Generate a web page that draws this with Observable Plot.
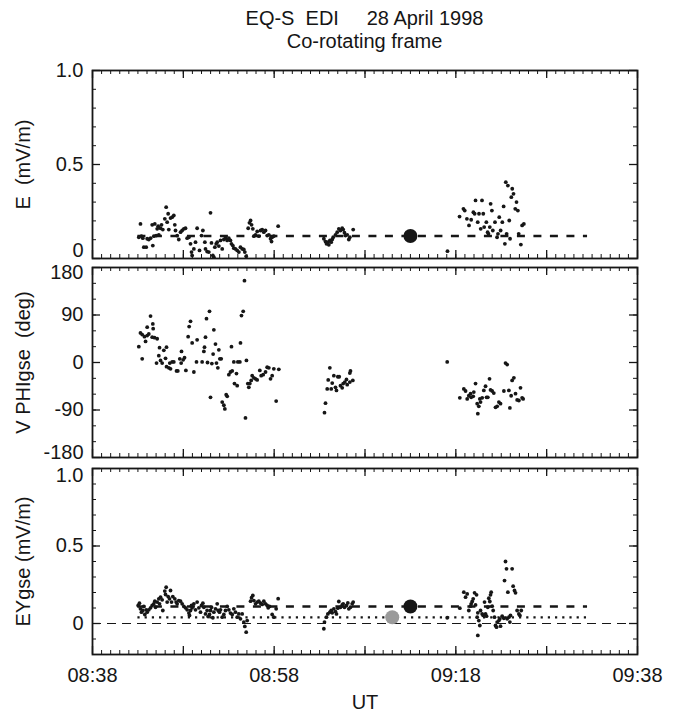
<!DOCTYPE html>
<html><head><meta charset="utf-8">
<script src="https://cdn.jsdelivr.net/npm/d3@7"></script>
<script src="https://cdn.jsdelivr.net/npm/@observablehq/plot@0.6"></script>
<style>
body{margin:0;background:#fff;}
#chart{position:relative;width:677px;height:715px;font-family:"Liberation Sans",Arial,Helvetica,sans-serif;color:#151515;overflow:hidden;}
#chart svg{position:absolute;left:0;overflow:visible;}
#chart svg text{white-space:pre;}
.title{position:absolute;left:92px;width:545px;text-align:center;font-size:20px;line-height:23px;white-space:pre;}
</style></head><body><div id="chart"></div>
<script>
// ---------- data (time = minutes after 08:00 UT, 28 April 1998) ----------
const titleLines = ["EQ-S  EDI     28 April 1998", "Co-rotating frame"];
const xTickLabels = ["08:38", "08:58", "09:18", "09:38"];
const xTitle = "UT";
const panelTitles = ["E  (mV/m)", "V PHIgse  (deg)", "EYgse (mV/m)"];

// Panel 1: |E| (mV/m)
const ePoints = [
[43.10,0.113],[43.28,0.184],[43.39,0.119],[43.54,0.108],[43.65,0.060],[43.91,0.060],[44.02,0.105],[44.20,0.101],[44.39,0.108],[44.57,0.179],[44.64,0.069],[44.75,0.119],[44.86,0.184],[45.01,0.122],[45.12,0.158],[45.23,0.172],[45.30,0.126],[45.49,0.161],[45.60,0.179],[45.74,0.154],[45.96,0.211],[46.11,0.273],[46.22,0.193],[46.33,0.238],[46.40,0.154],[46.59,0.215],[46.77,0.220],[46.95,0.229],[47.06,0.179],[47.14,0.149],[47.32,0.122],[47.50,0.101],[47.69,0.140],[47.87,0.149],[48.06,0.158],[48.24,0.161],[48.42,0.108],[48.61,0.113],[48.79,0.078],[48.90,0.034],[48.97,0.016],[49.16,0.051],[49.34,0.087],[49.52,0.161],[49.78,0.043],[50.00,0.122],[50.15,0.149],[50.37,0.087],[50.44,0.051],[50.62,0.037],[50.81,0.034],[50.99,0.243],[51.10,0.083],[51.25,0.016],[51.36,0.007],[51.47,0.060],[51.62,0.078],[51.73,0.087],[51.91,0.066],[52.09,0.096],[52.28,0.051],[52.46,0.101],[52.64,0.108],[52.83,0.096],[53.01,0.108],[53.19,0.096],[53.30,0.078],[53.45,0.069],[53.56,0.055],[53.74,0.051],[53.93,0.043],[54.11,0.034],[54.29,0.060],[54.48,0.051],[54.66,0.048],[54.77,0.034],[54.92,0.012],
[55.14,0.161],[55.28,0.190],[55.40,0.202],[55.51,0.179],[55.65,0.158],[55.76,0.119],[55.95,0.126],[56.13,0.144],[56.31,0.119],[56.50,0.149],[56.68,0.154],[56.86,0.140],[57.05,0.149],[57.23,0.122],[57.41,0.126],[57.60,0.105],[57.71,0.090],[57.78,0.113],[57.96,0.119],[58.44,0.172],
[63.47,0.105],[63.65,0.090],[63.76,0.078],[63.91,0.087],[64.02,0.073],[64.13,0.096],[64.28,0.087],[64.39,0.101],[64.50,0.113],[64.75,0.126],[64.94,0.140],[65.12,0.158],[65.30,0.149],[65.49,0.161],[65.60,0.154],[65.74,0.137],[65.85,0.122],[66.04,0.126],[66.22,0.101],[66.33,0.113],[66.70,0.154],
[77.08,0.039],
[78.41,0.223],[78.84,0.264],[78.98,0.255],[79.22,0.211],[79.45,0.176],[79.69,0.206],[79.93,0.246],[80.07,0.238],[80.17,0.309],[80.41,0.193],[80.55,0.238],[80.74,0.158],[80.88,0.309],[81.02,0.238],[81.12,0.167],[81.36,0.193],[81.50,0.140],[81.59,0.131],[81.74,0.167],[81.83,0.291],[81.97,0.255],[82.07,0.149],[82.31,0.193],[82.54,0.113],[82.64,0.131],[82.78,0.220],[82.93,0.149],[83.12,0.193],[83.26,0.277],[83.40,0.078],[83.50,0.406],[83.59,0.131],[83.73,0.388],[83.88,0.202],[83.97,0.105],[84.11,0.326],[84.21,0.371],[84.35,0.344],[84.54,0.264],[84.68,0.300],[84.83,0.255],[84.92,0.131],[85.16,0.074],[85.30,0.176],[85.49,0.184]
];
const eMean = 0.12;
const eMeanPoint = [73.0, 0.12];

// Panel 2: velocity azimuth PHI (deg, GSE)
const vPoints = [
[43.10,30],[43.47,7],[43.28,56],[43.47,53],[43.72,49],[43.84,40],[44.02,51],[44.20,54],[44.39,88],[44.02,67],[44.64,73],[44.68,64],[44.57,48],[44.83,47],[45.12,45],[45.38,28],[45.30,13],[45.05,-1],[45.49,4],[45.67,-1],[45.85,23],[46.15,29],[46.04,8],[46.15,-8],[46.40,-10],[46.59,-12],[46.51,-1],[46.77,1],[46.95,1],[47.25,-16],[47.39,-16],[47.61,7],[47.76,-1],[47.80,21],[47.98,5],[48.13,9],[48.28,-15],[48.53,49],[48.64,68],[48.79,78],[48.97,37],[49.16,-18],[49.45,1],[49.52,43],[50.07,1],[50.26,21],[50.33,29],[50.44,48],[50.55,83],[50.66,0],[50.88,97],[50.99,-66],[51.14,-2],[51.28,16],[51.36,62],[51.54,35],[51.65,-1],[51.80,-10],[51.91,24],[52.02,7],[52.17,7],[52.28,-75],[52.46,-81],[52.57,-88],[52.72,-61],[52.83,-64],[53.01,-23],[53.19,-18],[53.30,30],[53.38,-16],[53.56,1],[53.63,-40],[53.85,-21],[53.93,-44],[54.00,1],[54.22,1],[54.29,37],[54.40,89],[54.59,97],[54.73,155],[54.84,-105],[54.95,4],[55.10,-40],[55.21,-47],[55.32,-40],[55.47,-34],[55.58,-25],[55.76,-29],[55.95,-31],[56.13,-33],[56.42,-15],[56.57,-25],[56.79,-23],[57.05,-18],[57.23,-9],[57.41,-10],[57.60,-31],[57.78,-25],[57.96,-12],[58.22,-73],[58.51,-13],
[63.54,-95],[63.65,-77],[63.84,-50],[63.95,-33],[64.13,-10],[64.28,-50],[64.39,-39],[64.57,-25],[64.75,-47],[64.86,-53],[65.01,-27],[65.16,-27],[65.30,-44],[65.49,-48],[65.60,-40],[65.78,-37],[65.96,-32],[66.04,-42],[66.33,-37],[66.40,-16],[66.33,-20],[66.66,-34],
[77.05,1],
[78.44,-67],[78.88,-50],[79.07,-54],[79.25,-69],[79.43,-63],[79.62,-59],[79.69,-66],[79.91,-64],[79.98,-56],[80.17,-40],[80.35,-78],[80.53,-83],[80.64,-69],[80.72,-75],[80.90,-67],[81.08,-53],[81.27,-45],[81.38,-66],[81.52,-66],[81.71,-31],[81.82,-52],[82.00,-54],[82.18,-58],[82.37,-85],[82.55,-83],[82.74,-75],[82.92,-78],[83.29,-54],[83.47,-1],[83.65,-4],[83.84,-53],[83.95,-86],[84.09,-63],[84.20,-34],[84.39,-29],[84.57,-59],[84.75,-71],[84.94,-72],[85.12,-48],[85.30,-67],[85.41,-69],[80.42,-97]
];

// Panel 3: EY (GSE) (mV/m)
const eyPoints = [
[43.03,0.116],[43.17,0.131],[43.28,0.095],[43.39,0.073],[43.54,0.084],[43.65,0.110],[43.76,0.058],[43.91,0.088],[44.02,0.073],[44.20,0.088],[44.39,0.101],[44.57,0.116],[44.75,0.127],[44.86,0.144],[44.94,0.105],[45.12,0.138],[45.30,0.159],[45.38,0.127],[45.49,0.170],[45.67,0.153],[45.74,0.084],[45.96,0.209],[46.04,0.187],[46.11,0.234],[46.22,0.138],[46.33,0.174],[46.48,0.159],[46.59,0.213],[46.70,0.138],[46.84,0.174],[47.06,0.159],[47.21,0.138],[47.32,0.127],[47.50,0.148],[47.69,0.144],[47.87,0.127],[48.06,0.110],[48.24,0.101],[48.42,0.088],[48.61,0.067],[48.68,0.052],[48.79,0.084],[48.90,0.116],[48.97,0.101],[49.16,0.127],[49.34,0.088],[49.52,0.138],[49.71,0.101],[49.89,0.073],[50.00,0.116],[50.15,0.131],[50.26,0.105],[50.44,0.062],[50.62,0.084],[50.73,0.045],[50.88,0.058],[50.99,0.084],[51.10,0.105],[51.25,0.037],[51.36,0.073],[51.54,0.095],[51.73,0.127],[51.84,0.084],[51.98,0.073],[52.09,0.088],[52.28,0.041],[52.46,0.058],[52.64,0.084],[52.83,0.110],[53.01,0.088],[53.19,0.067],[53.38,0.058],[53.56,0.095],[53.74,0.073],[53.93,0.041],[54.11,0.062],[54.29,0.030],[54.48,0.062],[54.66,0.009],[54.77,-0.019],[54.92,-0.056],[55.03,0.019],
[55.40,0.144],[55.51,0.166],[55.65,0.181],[55.76,0.148],[55.95,0.127],[56.13,0.138],[56.31,0.144],[56.50,0.131],[56.68,0.123],[56.86,0.144],[57.05,0.127],[57.23,0.116],[57.34,0.101],[57.49,0.110],[57.78,0.058],[57.96,0.041],[58.22,0.095],[58.44,0.160],
[63.47,-0.034],[63.54,0.009],[63.76,0.041],[63.91,0.062],[64.13,0.073],[64.28,0.084],[64.39,0.069],[64.57,0.095],[64.75,0.077],[64.86,0.062],[65.01,0.099],[65.12,0.142],[65.30,0.105],[65.49,0.120],[65.60,0.127],[65.74,0.105],[65.96,0.116],[66.11,0.133],[66.22,0.095],[66.40,0.105],[66.59,0.127],[66.70,0.138],
[77.05,0.037],
[78.44,0.099],[78.88,0.202],[79.07,0.170],[79.25,0.191],[79.43,0.084],[79.62,0.112],[79.69,0.127],[79.80,0.142],[79.91,0.159],[80.06,0.198],[80.17,0.120],[80.28,0.185],[80.35,0.041],[80.42,0.069],[80.53,0.019],[80.64,-0.013],[80.72,0.084],[80.90,0.062],[81.01,0.052],[81.16,0.138],[81.27,0.062],[81.38,0.047],[81.52,0.105],[81.63,0.163],[81.74,0.142],[81.82,0.185],[81.89,0.202],[82.00,0.112],[82.11,0.084],[82.26,0.041],[82.37,-0.013],[82.48,-0.024],[82.55,0.009],[82.74,0.019],[82.85,0.030],[82.92,-0.017],[83.10,0.047],[83.29,0.034],[83.36,0.277],[83.47,0.400],[83.58,0.353],[83.65,0.030],[83.73,0.202],[83.84,0.041],[83.95,0.009],[84.02,0.052],[84.20,0.353],[84.31,0.241],[84.46,0.213],[84.57,0.198],[84.75,0.084],[84.94,0.062],[85.05,0.052],[85.20,0.084],[80.42,-0.077]
];
const eyMean = 0.11;          // dashed line
const eyMeanPoint = [73.0, 0.11];
const eyCorrected = 0.04;     // dotted line
const eyCorrectedPoint = [71.0, 0.04];
const meanSpan = [43.0, 92.5]; // extent of the mean lines

// ---------- helpers ----------
const toDate = m => new Date(Date.UTC(1998, 3, 28, 8, 0) + m * 60000);
const parseHM = s => { const [h, m] = s.split(":").map(Number); return toDate((h - 8) * 60 + m); };
const xDomain = [parseHM(xTickLabels[0]), parseHM(xTickLabels[xTickLabels.length - 1])];
const xMinor = d3.utcMinute.every(1).range(xDomain[0], new Date(+xDomain[1] + 1));
const xMajor = xMinor.filter(d => ((+d - +xDomain[0]) / 60000) % 10 === 0);
const xLabelDates = xTickLabels.map(parseHM);

const INK = "#161616";
const FONT = '"Liberation Sans", Arial, Helvetica, sans-serif';
const W = 677, ML = 92, MR = 40, FW = W - ML - MR;
const chart = document.getElementById("chart");

titleLines.forEach((t, i) => {
  const d = document.createElement("div");
  d.className = "title";
  d.style.top = (7 + i * 23) + "px";
  d.textContent = t;
  chart.append(d);
});

const pt = (opts = {}) => ({x: d => toDate(d[0]), y: d => d[1], ...opts});

function tickMarks(frameH, yMinor, yMajor) {
  return [
    Plot.ruleX(xMinor, {insetTop: frameH - 4, stroke: INK, strokeWidth: 1}),
    Plot.ruleX(xMinor, {insetBottom: frameH - 4, stroke: INK, strokeWidth: 1}),
    Plot.ruleX(xMajor, {insetTop: frameH - 8, stroke: INK, strokeWidth: 1.3}),
    Plot.ruleX(xMajor, {insetBottom: frameH - 8, stroke: INK, strokeWidth: 1.3}),
    Plot.ruleY(yMinor, {insetRight: FW - 4, stroke: INK, strokeWidth: 1}),
    Plot.ruleY(yMinor, {insetLeft: FW - 4, stroke: INK, strokeWidth: 1}),
    Plot.ruleY(yMajor, {insetRight: FW - 8, stroke: INK, strokeWidth: 1.3}),
    Plot.ruleY(yMajor, {insetLeft: FW - 8, stroke: INK, strokeWidth: 1.3})
  ];
}

function yTitle(text) {
  return Plot.text([text], {frameAnchor: "left", dx: -69, rotate: -90, text: d => d,
    textAnchor: "middle", lineAnchor: "middle", fill: INK, fontSize: 20});
}

function yLabels(values, fmt, dy = 0) {
  return Plot.axisY(values, {tickSize: 0, tickPadding: 9, tickFormat: fmt, label: null, dy, fill: INK, fontSize: 20});
}

function panel({top, frameH, mb = 10, yDomain, yMinor, yMajor, marks, xAxis = false}) {
  const mt = 10;
  const svg = Plot.plot({
    width: W, height: mt + frameH + mb,
    marginLeft: ML, marginRight: MR, marginTop: mt, marginBottom: mb,
    x: xAxis ? {type: "utc", domain: xDomain} : {type: "utc", domain: xDomain, axis: null},
    y: {domain: yDomain},
    style: {fontFamily: FONT, fontSize: "20px", color: INK, background: "transparent", overflow: "visible"},
    marks: [...marks, ...tickMarks(frameH, yMinor, yMajor), Plot.frame({stroke: INK, strokeWidth: 1.8})]
  });
  svg.style.top = (top - mt) + "px";
  chart.append(svg);
}

const f1 = d => d === 0 ? "0" : d.toFixed(1);
const dashThick = {stroke: INK, strokeWidth: 2.6, strokeDasharray: "8,8.5"};
const spanX = {x1: () => toDate(meanSpan[0]), x2: () => toDate(meanSpan[1])};
const R = 1.9;

// Panel 1
panel({
  top: 70, frameH: 188, yDomain: [0, 1],
  yMinor: d3.range(0, 1.001, 0.1), yMajor: [0, 0.5, 1],
  marks: [
    Plot.ruleY([eMean], {...spanX, ...dashThick}),
    Plot.dot(ePoints, pt({r: R, fill: INK})),
    Plot.dot([eMeanPoint], pt({r: 7, fill: INK})),
    yLabels([0.5, 1], f1),
    yLabels([0], f1, -8),
    yTitle(panelTitles[0])
  ]
});

// Panel 2
panel({
  top: 267, frameH: 190, yDomain: [-180, 180],
  yMinor: d3.range(-180, 181, 30), yMajor: [-180, -90, 0, 90, 180],
  marks: [
    Plot.dot(vPoints, pt({r: R, fill: INK})),
    yLabels([-90, 0, 90], d => String(d)),
    yLabels([180], d => String(d), 5),
    yLabels([-180], d => String(d), -5),
    yTitle(panelTitles[1])
  ]
});

// Panel 3
panel({
  top: 468, frameH: 186, mb: 61, yDomain: [-0.2, 1], xAxis: true,
  yMinor: d3.range(-0.2, 1.001, 0.1).map(v => +v.toFixed(2)), yMajor: [0, 0.5, 1],
  marks: [
    Plot.ruleY([0], {stroke: INK, strokeWidth: 1.2, strokeDasharray: "9,6"}),
    Plot.ruleY([eyCorrected], {...spanX, stroke: INK, strokeWidth: 2.2, strokeDasharray: "2.2,5"}),
    Plot.ruleY([eyMean], {...spanX, ...dashThick}),
    Plot.dot(eyPoints, pt({r: R, fill: INK})),
    Plot.dot([eyCorrectedPoint], pt({r: 7, fill: "#9a9a9a"})),
    Plot.dot([eyMeanPoint], pt({r: 7, fill: INK})),
    yLabels([0, 0.5], f1),
    yLabels([1], f1, 7),
    yTitle(panelTitles[2]),
    Plot.axisX(xLabelDates, {tickSize: 0, tickPadding: 13, tickFormat: d3.utcFormat("%H:%M"), label: null, fill: INK, fontSize: 20}),
    Plot.text([xTitle], {frameAnchor: "bottom", dy: 48, text: d => d, textAnchor: "middle", lineAnchor: "middle", fill: INK, fontSize: 20})
  ]
});
</script></body></html>
